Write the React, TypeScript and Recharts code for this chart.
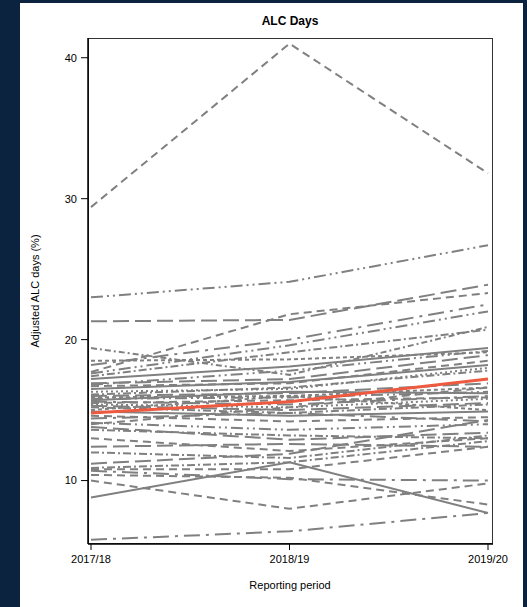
import { Line, LineChart, XAxis, YAxis } from "recharts";

const periods = ["2017/18", "2018/19", "2019/20"];

// one entry per trust, same order in each period
const values1718 = [
  29.4, 23.0, 21.3, 17.7, 19.4, 18.5, 18.2, 17.6, 17.4, 17.2, 16.9, 16.7, 16.5, 16.3, 16.1,
  16.0, 15.9, 15.8, 15.7, 15.6, 15.5, 15.4, 15.3, 15.2, 15.0, 14.9, 14.6, 14.4, 14.1, 13.8,
  13.6, 13.0, 12.4, 12.0, 11.2, 10.9, 10.8, 10.7, 10.0, 10.4, 8.8, 5.8, 16.8, 14.0
];
const values1819 = [
  41.0, 24.1, 21.4, 21.8, 17.5, 18.6, 20.0, 19.6, 19.1, 18.1, 17.2, 16.9, 17.0, 16.5, 16.6,
  16.2, 16.0, 15.9, 16.3, 15.4, 15.7, 15.2, 15.0, 14.8, 16.0, 14.6, 14.2, 14.8, 13.6, 12.9,
  13.2, 12.1, 12.6, 11.6, 11.9, 11.3, 10.8, 10.1, 8.0, 10.2, 11.3, 6.4, 17.8, 15.2
];
const values1920 = [
  31.8, 26.7, 23.9, 23.3, 20.9, 19.1, 22.5, 22.0, 20.7, 19.4, 18.9, 18.5, 18.2, 18.0, 17.8,
  16.9, 16.6, 16.3, 16.2, 16.0, 15.9, 15.8, 15.5, 15.4, 15.0, 14.9, 14.5, 14.2, 14.0, 13.4,
  13.0, 13.0, 12.4, 13.2, 14.3, 12.8, 12.4, 10.0, 9.8, 8.3, 7.7, 7.7, 19.2, 16.6
];
const highlightValues = [14.8, 15.6, 17.2];

const yTicks = [10, 20, 30, 40];

const dashStyles: Record<string, string> = {
  solid: "",
  dash: "8 5",
  shortdash: "4 3",
  longdash: "16 6",
  dashdot: "8 3 2 3",
  longdashdot: "16 6 3 6",
  dashdotdot: "12 4 2 4 2 4",
  shortdashdot: "6 3 2 3",
  dot: "2 3"
};

// line pattern for each trust, same order as the values
const trustPatterns = [
  "dash", "dashdotdot", "longdash", "dash", "shortdashdot", "shortdash", "longdashdot", "dashdotdot",
  "dashdot", "solid", "longdash", "dash", "solid", "dot", "dashdot", "longdash", "shortdash",
  "dashdotdot", "solid", "longdashdot", "dash", "dot", "longdash", "dashdot", "shortdash", "solid",
  "dash", "longdashdot", "dashdotdot", "longdash", "dashdot", "dash", "longdash", "dashdot",
  "longdash", "dashdot", "dash", "longdashdot", "dash", "dash", "solid", "longdashdot",
  "dashdotdot", "dash"
];

const navy = "#0c2340";
const grey = "#808080";
const font = "'Liberation Sans', Arial, sans-serif";

const data = periods.map((period, i) => {
  const column = [values1718, values1819, values1920][i];
  const row: Record<string, number | string> = { period, focus: highlightValues[i] };
  column.forEach((v, j) => {
    row[`t${j}`] = v;
  });
  return row;
});

const tickStyle = { fill: "#000", fontSize: 11, fontFamily: font };

const textBase = {
  position: "absolute" as const,
  transform: "translate(-50%, -50%)",
  fontFamily: font,
  fontSize: 11,
  whiteSpace: "nowrap" as const
};

export default function App() {
  return (
    <div style={{ position: "absolute", left: 0, top: 0, width: 527, height: 607, background: navy }}>
      <div style={{ position: "absolute", left: 20, top: 3, width: 503, height: 604, background: "#fff" }} />
      <div style={{ ...textBase, left: 290, top: 21, fontWeight: "bold", fontSize: 12 }}>ALC Days</div>
      <div style={{ ...textBase, left: 35, top: 291, transform: "translate(-50%, -50%) rotate(-90deg)" }}>
        Adjusted ALC days (%)
      </div>
      <div style={{ ...textBase, left: 290, top: 585 }}>Reporting period</div>
      {/* plot frame */}
      <div
        style={{
          position: "absolute",
          left: 88,
          top: 38,
          width: 405,
          height: 506,
          boxSizing: "border-box",
          border: "1px solid #333"
        }}
      />
      <div style={{ position: "absolute", left: 0, top: 0 }}>
        <LineChart width={527} height={607} data={data} margin={{ top: 38, right: 34, bottom: 33, left: 48 }}>
          <XAxis
            dataKey="period"
            padding={{ left: 3, right: 5 }}
            tick={tickStyle}
            tickSize={6}
            tickMargin={5}
            height={30}
            stroke="#000"
            axisLine={{ stroke: "#000", strokeWidth: 1.5 }}
            tickLine={{ stroke: "#000" }}
            interval={0}
          />
          <YAxis
            domain={[5.5, 41.4]}
            ticks={yTicks}
            width={40}
            tick={tickStyle}
            tickSize={7}
            tickMargin={4}
            stroke="#000"
            axisLine={{ stroke: "#000", strokeWidth: 1.5 }}
            tickLine={{ stroke: "#000" }}
            allowDataOverflow
          />
          {values1718.map((_, j) => (
            <Line
              key={j}
              type="linear"
              dataKey={`t${j}`}
              stroke={grey}
              strokeWidth={2}
              strokeDasharray={dashStyles[trustPatterns[j]] || undefined}
              dot={false}
              isAnimationActive={false}
            />
          ))}
          <Line
            type="linear"
            dataKey="focus"
            stroke="#ee5a3f"
            strokeWidth={3}
            dot={false}
            isAnimationActive={false}
          />
        </LineChart>
      </div>
    </div>
  );
}
